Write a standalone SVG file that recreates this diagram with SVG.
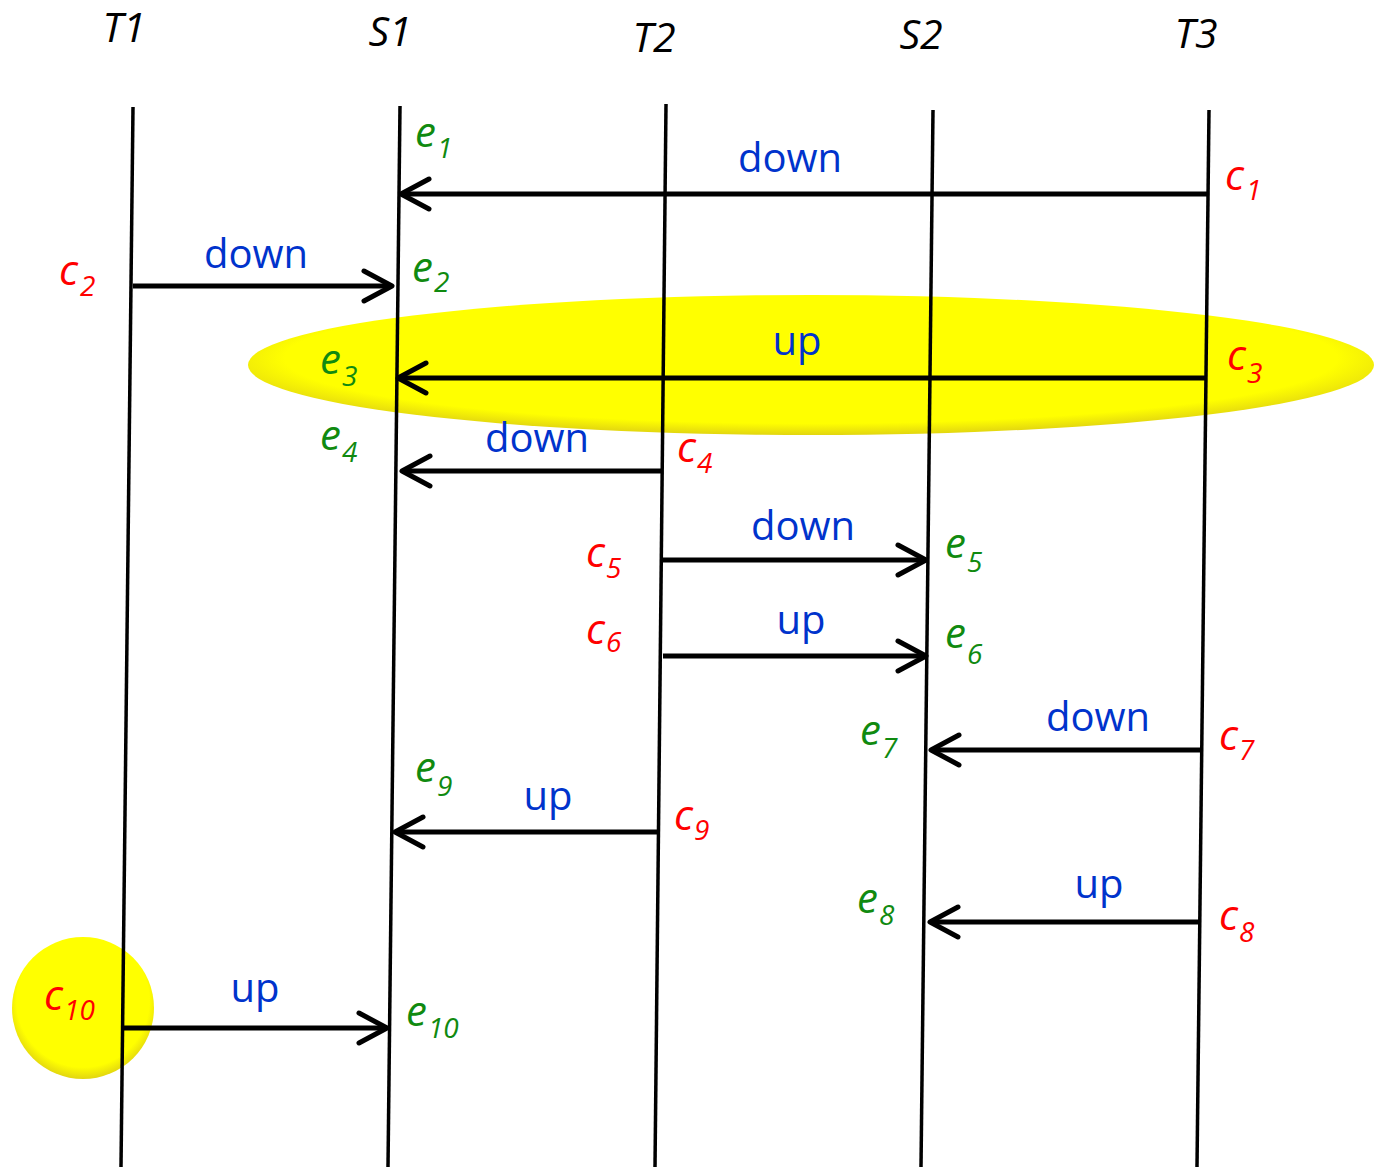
<svg xmlns="http://www.w3.org/2000/svg" width="1374" height="1167" viewBox="0 0 1374 1167">
  <style>
    .life { stroke: #000; stroke-width: 3.5; fill: none; }
    .msg { stroke: #000; stroke-width: 5; fill: none; marker-end: url(#head); }
    .title { font-family: "Open Sans", "Liberation Sans", sans-serif; font-style: italic; font-size: 41px; fill: #000; text-anchor: middle; }
    .lbl { font-family: "Open Sans", "Liberation Sans", sans-serif; font-size: 40px; fill: #0033cc; text-anchor: middle; }
    .ev { font-family: "Open Sans", "Liberation Sans", sans-serif; font-style: italic; font-size: 42px; }
    .sub { font-size: 28px; }
    .e { fill: #108a10; }
    .c { fill: #ff0000; }
  </style>
  <defs>
    <marker id="head" markerUnits="userSpaceOnUse" viewBox="-34 -19 38 38" refX="0" refY="0" markerWidth="38" markerHeight="38" orient="auto" overflow="visible">
      <path d="M-28,-15 L0,0 L-28,15" fill="none" stroke="#000" stroke-width="5" stroke-linecap="round" stroke-linejoin="round"/>
    </marker>
    <radialGradient id="glow" cx="50%" cy="45%" r="55%">
      <stop offset="0" stop-color="#ffff00"/>
      <stop offset="0.85" stop-color="#ffff00"/>
      <stop offset="1" stop-color="#e2d610"/>
    </radialGradient>
  </defs>

  <!-- highlighted regions -->
  <g id="highlight-c3">
    <ellipse cx="811" cy="365" rx="563" ry="70" fill="url(#glow)"/>
  </g>
  <g id="highlight-c10">
    <circle cx="83" cy="1008" r="71" fill="url(#glow)"/>
  </g>

  <!-- lifelines -->
  <g id="T1">
    <text class="title" x="124" y="42">T1</text>
    <line class="life" x1="133" y1="107" x2="121" y2="1167"/>
  </g>
  <g id="S1">
    <text class="title" x="390" y="46">S1</text>
    <line class="life" x1="400" y1="106" x2="388" y2="1167"/>
  </g>
  <g id="T2">
    <text class="title" x="654" y="52">T2</text>
    <line class="life" x1="666" y1="104" x2="655" y2="1167"/>
  </g>
  <g id="S2">
    <text class="title" x="921" y="49">S2</text>
    <line class="life" x1="933" y1="110" x2="921" y2="1167"/>
  </g>
  <g id="T3">
    <text class="title" x="1196" y="48">T3</text>
    <line class="life" x1="1209" y1="110" x2="1197" y2="1167"/>
  </g>

  <!-- messages -->
  <g id="connectors">
    <line class="msg" x1="1207" y1="194" x2="401" y2="194"/>
    <text class="lbl" x="790" y="172">down</text>

    <line class="msg" x1="133" y1="286" x2="392" y2="286"/>
    <text class="lbl" x="256" y="268">down</text>

    <line class="msg" x1="1205" y1="378" x2="398" y2="378"/>
    <text class="lbl" x="797" y="355">up</text>

    <line class="msg" x1="661" y1="471" x2="402" y2="471"/>
    <text class="lbl" x="537" y="452">down</text>

    <line class="msg" x1="663" y1="560" x2="926" y2="560"/>
    <text class="lbl" x="803" y="540">down</text>

    <line class="msg" x1="663" y1="656" x2="926" y2="656"/>
    <text class="lbl" x="801" y="634">up</text>

    <line class="msg" x1="1201" y1="750" x2="931" y2="750"/>
    <text class="lbl" x="1098" y="731">down</text>

    <line class="msg" x1="657" y1="832" x2="395" y2="832"/>
    <text class="lbl" x="548" y="810">up</text>

    <line class="msg" x1="1199" y1="922" x2="930" y2="922"/>
    <text class="lbl" x="1099" y="898">up</text>

    <line class="msg" x1="123" y1="1028" x2="387" y2="1028"/>
    <text class="lbl" x="255" y="1002">up</text>
  </g>

  <!-- send and receive events -->
  <g id="events">
    <text class="ev e" x="415" y="147">e<tspan class="sub" dx="1" dy="11">1</tspan></text>
    <text class="ev c" x="1225" y="190">c<tspan class="sub" dx="2" dy="10">1</tspan></text>
    <text class="ev c" x="59" y="285">c<tspan class="sub" dx="2" dy="11">2</tspan></text>
    <text class="ev e" x="412" y="282">e<tspan class="sub" dx="1" dy="10">2</tspan></text>
    <text class="ev e" x="320" y="374">e<tspan class="sub" dx="1" dy="12">3</tspan></text>
    <text class="ev c" x="1227" y="370">c<tspan class="sub" dx="1" dy="13">3</tspan></text>
    <text class="ev e" x="320" y="450">e<tspan class="sub" dx="1" dy="12">4</tspan></text>
    <text class="ev c" x="677" y="462">c<tspan class="sub" dx="1" dy="11">4</tspan></text>
    <text class="ev c" x="586" y="567">c<tspan class="sub" dx="1" dy="11">5</tspan></text>
    <text class="ev e" x="945" y="558">e<tspan class="sub" dx="1" dy="14">5</tspan></text>
    <text class="ev c" x="586" y="644">c<tspan class="sub" dx="1" dy="8">6</tspan></text>
    <text class="ev e" x="945" y="648">e<tspan class="sub" dx="1" dy="16">6</tspan></text>
    <text class="ev e" x="860" y="745">e<tspan class="sub" dx="1" dy="13">7</tspan></text>
    <text class="ev c" x="1219" y="750">c<tspan class="sub" dx="1" dy="10">7</tspan></text>
    <text class="ev e" x="415" y="782">e<tspan class="sub" dx="1" dy="14">9</tspan></text>
    <text class="ev c" x="674" y="830">c<tspan class="sub" dx="1" dy="10">9</tspan></text>
    <text class="ev e" x="857" y="913">e<tspan class="sub" dx="1" dy="12">8</tspan></text>
    <text class="ev c" x="1219" y="930">c<tspan class="sub" dx="1" dy="12">8</tspan></text>
    <text class="ev c" x="44" y="1010">c<tspan class="sub" dx="1" dy="10">10</tspan></text>
    <text class="ev e" x="406" y="1026">e<tspan class="sub" dx="1" dy="12">10</tspan></text>
  </g>
</svg>
